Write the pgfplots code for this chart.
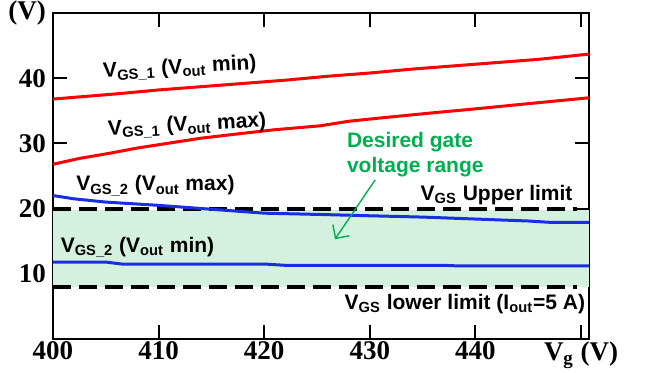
\documentclass[border=0pt]{standalone}
\usepackage{fontspec}
\setmainfont{Liberation Serif}
\setsansfont{Liberation Sans}
\usepackage{pgfplots}
\pgfplotsset{compat=1.18}
\usetikzlibrary{arrows.meta}
\definecolor{myred}{RGB}{255,0,0}
\definecolor{myblue}{RGB}{25,45,225}
\definecolor{mygreen}{RGB}{0,176,80}
\definecolor{myfill}{RGB}{212,241,224}
\begin{document}
\begin{tikzpicture}
\useasboundingbox (-26.5pt,-16.5pt) rectangle (298.5pt,169.5pt);
\begin{axis}[
  at={(0pt,0pt)}, anchor=south west,
  scale only axis, width=268pt, height=163pt,
  xmin=400, xmax=450.75, ymin=0, ymax=50,
  axis line style={line width=1pt},
  xtick={400,410,420,430,440,450},
  xticklabels={400,410,420,430,440,{V\textsubscript{g} (V)}},
  ytick={10,20,30,40,50},
  yticklabels={10,20,30,40,(V)},
  tick align=inside,
  major tick length=7pt,
  tick style={line width=1pt, black},
  xtick pos=both, ytick pos=both,
  xticklabel pos=bottom, yticklabel pos=left,
  /pgf/number format/assume math mode=true,
  ticklabel style={font=\fontsize{13.5}{13.5}\selectfont\bfseries},
  xticklabel style={inner sep=1.5pt, yshift=0.5pt},
  clip=false,
]
% desired region
\addplot[fill=myfill, draw=none] coordinates {(400,8) (450.75,8) (450.75,19.8) (400,19.8)} -- cycle;
% limits
\addplot[black, line width=1.9pt, dash pattern=on 9pt off 4pt] coordinates {(400,20) (449.6,20)};
\addplot[black, line width=1.9pt, dash pattern=on 9pt off 4pt] coordinates {(400,8) (449.6,8)};
% VGS_1 (Vout min)
\addplot[myred, line width=1.5pt] coordinates {
(400,36.8) (403,37.2) (406,37.6) (410,38.2) (414,38.7) (418,39.2) (422,39.7)
(426,40.3) (430,40.8) (434,41.4) (438,41.9) (442,42.4) (446,42.9) (450.75,43.7)};
% VGS_1 (Vout max)
\addplot[myred, line width=1.5pt] coordinates {
(400,26.8) (402.5,27.7) (405.4,28.5) (408,29.3) (410.8,30.0) (414,30.8) (417.7,31.5)
(421,32.1) (425.3,32.7) (428,33.4) (431.6,34.0) (436,34.7) (440,35.3) (445,36.1) (450.75,37.0)};
% VGS_2 (Vout max)
\addplot[myblue, line width=1.5pt] coordinates {
(400,22.0) (402,21.5) (405,21.0) (410,20.5) (415,19.9) (420,19.3) (425.3,19.1)
(430,18.9) (435,18.7) (440,18.4) (445,18.1) (447,17.9) (450.75,17.9)};
% VGS_2 (Vout min)
\addplot[myblue, line width=1.5pt] coordinates {
(400,11.8) (405,11.8) (406.5,11.5) (412,11.5) (420,11.5) (422,11.3) (430,11.3)
(437,11.3) (438.5,11.2) (450.75,11.2)};
% arrow
\addplot[mygreen, line width=0.7pt, -{Straight Barb[length=5pt]}] coordinates {(430.5,24.4) (426.7,15.3)};
% labels
\begin{scope}[every node/.style={font=\sffamily\bfseries\fontsize{10.5}{12}\selectfont, inner sep=0pt}]
\node[rotate=3] at (axis cs:412.0,41.5) {V\textsubscript{GS\_1} (V\textsubscript{out} min)};
\node[rotate=3] at (axis cs:412.7,32.7) {V\textsubscript{GS\_1} (V\textsubscript{out} max)};
\node at (axis cs:409.7,23.5) {V\textsubscript{GS\_2} (V\textsubscript{out} max)};
\node at (axis cs:408.0,14.1) {V\textsubscript{GS\_2} (V\textsubscript{out} min)};
\node at (axis cs:442.0,22.1) {V\textsubscript{GS} Upper limit};
\node at (axis cs:439.0,5.4) {V\textsubscript{GS} lower limit (I\textsubscript{out}=5 A)};
\node[anchor=west, align=left, text=mygreen, font=\sffamily\bfseries\fontsize{10.5}{12.5}\selectfont] at (axis cs:427.8,28.3) {Desired gate\\voltage range};
\end{scope}
\end{axis}
\end{tikzpicture}
\end{document}
